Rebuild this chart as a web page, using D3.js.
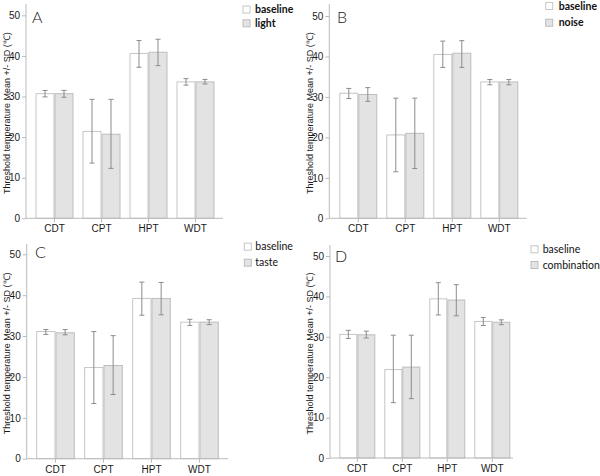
<!DOCTYPE html>
<html>
<head>
<meta charset="utf-8">
<script src="https://cdn.jsdelivr.net/npm/d3@7"></script>
<style>
  html, body { margin: 0; padding: 0; background: #fff; }
  svg { display: block; }
</style>
</head>
<body>
<svg id="chart" width="600" height="476"></svg>
<script>
// ---- data ----
const categories = ["CDT", "CPT", "HPT", "WDT"];
const yTicks = [0, 10, 20, 30, 40, 50];
const panelLetters = ["A", "B", "C", "D"];
const conditionNames = ["light", "noise", "taste", "combination"];
const baselineName = "baseline";

// panel A (baseline vs light): mean, lower, upper
const aBaseMean = [30.7, 21.4, 40.6, 33.6];
const aBaseLow  = [29.9, 13.6, 37.2, 32.8];
const aBaseHigh = [31.5, 29.3, 43.8, 34.4];
const aCondMean = [30.7, 20.7, 40.9, 33.6];
const aCondLow  = [29.8, 12.3, 37.6, 33.1];
const aCondHigh = [31.5, 29.3, 44.1, 34.2];

// panel B (baseline vs noise)
const bBaseMean = [30.9, 20.6, 40.5, 33.7];
const bBaseLow  = [29.6, 11.5, 37.3, 33.0];
const bBaseHigh = [32.1, 29.7, 43.8, 34.3];
const bCondMean = [30.6, 21.0, 40.8, 33.7];
const bCondLow  = [28.9, 12.3, 37.3, 33.0];
const bCondHigh = [32.3, 29.7, 43.9, 34.3];

// panel C (baseline vs taste)
const cBaseMean = [31.1, 22.3, 39.2, 33.4];
const cBaseLow  = [30.4, 13.5, 35.1, 32.6];
const cBaseHigh = [31.6, 31.1, 43.2, 34.1];
const cCondMean = [30.8, 22.8, 39.2, 33.4];
const cCondLow  = [30.3, 15.7, 35.2, 32.8];
const cCondHigh = [31.6, 30.1, 43.1, 34.0];

// panel D (baseline vs combination)
const dBaseMean = [30.6, 21.9, 39.4, 33.8];
const dBaseLow  = [29.6, 13.7, 35.4, 32.8];
const dBaseHigh = [31.6, 30.4, 43.4, 34.8];
const dCondMean = [30.5, 22.5, 39.1, 33.6];
const dCondLow  = [29.7, 14.7, 35.2, 33.0];
const dCondHigh = [31.4, 30.4, 42.9, 34.2];

const panelData = [
  [[aBaseMean, aBaseLow, aBaseHigh], [aCondMean, aCondLow, aCondHigh]],
  [[bBaseMean, bBaseLow, bBaseHigh], [bCondMean, bCondLow, bCondHigh]],
  [[cBaseMean, cBaseLow, cBaseHigh], [cCondMean, cCondLow, cCondHigh]],
  [[dBaseMean, dBaseLow, dBaseHigh], [dCondMean, dCondLow, dCondHigh]]
];

// ---- layout (pixels) ----
const layouts = [
  {ax: 26,  y0: 218.3, y50: 15.3, top: 4,   c0: 54.5,  step: 47, bw: 19,   xEnd: 223, lgX: 243, lgTx: 255, lgY: [9.5, 23.3],  lbX: 32,  lbY: 17,  ylX: 7,   bold: true},
  {ax: 329.3, y0: 218.3, y50: 16, top: 4,   c0: 358.3, step: 47, bw: 19,   xEnd: 526.7, lgX: 545.7, lgTx: 558.7, lgY: [6, 22.7], lbX: 337, lbY: 17, ylX: 310, bold: true},
  {ax: 26.7, y0: 458.7, y50: 254.3, top: 244, c0: 55.5, step: 48, bw: 19.3, xEnd: 228, lgX: 244.3, lgTx: 255.3, lgY: [246.7, 262.7], lbX: 35, lbY: 252.7, ylX: 7, bold: false},
  {ax: 330, y0: 458, y50: 256, top: 245, c0: 357.3, step: 45, bw: 18, xEnd: 513, lgX: 531, lgTx: 542.7, lgY: [249.3, 265], lbX: 335, lbY: 256, ylX: 310, bold: false}
];

const axisColor = "#bbbbbb";
const textColor = "#1a1a1a";
const fills = ["#ffffff", "#e3e3e3"];
const strokes = ["#c6c6c6", "#bdbdbd"];
const errColor = "#8c8c8c";
const baseFont = "'Liberation Sans', Arial, sans-serif";

const svg = d3.select("#chart");

layouts.forEach((L, pi) => {
  const g = svg.append("g");
  const series = panelData[pi];

  const y = d3.scaleLinear().domain([0, 50]).range([L.y0, L.y50]);
  const x = d3.scaleBand()
    .domain(categories)
    .range([L.c0 - L.step / 2, L.c0 + L.step * (categories.length - 0.5)])
    .paddingInner(1 - 2 * L.bw / L.step)
    .paddingOuter((1 - 2 * L.bw / L.step) / 2);
  const xs = d3.scaleBand().domain([0, 1]).range([0, x.bandwidth()]).padding(0);

  // bars
  series.forEach((s, si) => {
    const [mean] = s;
    g.append("g").selectAll("rect").data(categories).join("rect")
      .attr("x", (c) => x(c) + xs(si) + 0.5)
      .attr("width", xs.bandwidth() - 1)
      .attr("y", (c, i) => y(mean[i]))
      .attr("height", (c, i) => y(0) - y(mean[i]))
      .attr("fill", fills[si])
      .attr("stroke", strokes[si])
      .attr("stroke-width", 1);
  });

  // error bars
  series.forEach((s, si) => {
    const [mean, low, high] = s;
    const ge = g.append("g").attr("stroke", errColor).attr("stroke-width", 1);
    categories.forEach((c, i) => {
      const cx = x(c) + xs(si) + xs.bandwidth() / 2;
      ge.append("line").attr("x1", cx).attr("x2", cx).attr("y1", y(low[i])).attr("y2", y(high[i]));
      ge.append("line").attr("x1", cx - 2.5).attr("x2", cx + 2.5).attr("y1", y(low[i])).attr("y2", y(low[i]));
      ge.append("line").attr("x1", cx - 2.5).attr("x2", cx + 2.5).attr("y1", y(high[i])).attr("y2", y(high[i]));
    });
  });

  // y axis
  const yAxis = d3.axisLeft(y).tickValues(yTicks).tickSize(4).tickPadding(2).tickFormat(d3.format("d"));
  const gy = g.append("g").attr("transform", `translate(${L.ax},0)`).call(yAxis);
  gy.select(".domain").remove();
  gy.selectAll(".tick line").attr("stroke", axisColor);
  gy.selectAll(".tick text").attr("fill", textColor).style("font-family", baseFont).style("font-size", "10px");
  g.append("line").attr("x1", L.ax).attr("x2", L.ax).attr("y1", L.top).attr("y2", L.y0)
    .attr("stroke", axisColor);

  // x axis
  const xAxis = d3.axisBottom(x).tickSize(4).tickPadding(3);
  const gx = g.append("g").attr("transform", `translate(0,${L.y0})`).call(xAxis);
  gx.select(".domain").remove();
  gx.selectAll(".tick line").attr("stroke", axisColor);
  gx.selectAll(".tick text").attr("fill", textColor).style("font-family", baseFont).style("font-size", "10px");
  g.append("line").attr("x1", L.ax).attr("x2", L.xEnd).attr("y1", L.y0).attr("y2", L.y0)
    .attr("stroke", axisColor);

  // y label
  g.append("text")
    .attr("transform", `translate(${L.ylX + 3},${(L.y0 + L.top) / 2 + 2}) rotate(-90)`)
    .attr("text-anchor", "middle")
    .attr("fill", textColor)
    .style("font-family", baseFont)
    .style("font-size", "9px")
    .text("Threshold temperature Mean +/- SD (\u2103)");

  // panel letter
  g.append("text")
    .attr("x", L.lbX).attr("y", L.lbY)
    .attr("dy", "0.35em")
    .attr("fill", textColor)
    .style("font-family", "Lato, 'Open Sans', sans-serif")
    .style("font-weight", 300)
    .style("font-size", "16px")
    .text(panelLetters[pi]);

  // legend
  const names = [baselineName, conditionNames[pi]];
  names.forEach((n, si) => {
    g.append("rect")
      .attr("x", L.lgX).attr("y", L.lgY[si] - 3.5)
      .attr("width", 7).attr("height", 7)
      .attr("fill", fills[si]).attr("stroke", strokes[si]);
    g.append("text")
      .attr("x", L.lgTx).attr("y", L.lgY[si])
      .attr("dy", "0.35em")
      .attr("fill", "#111")
      .style("font-family", "Lato, 'Open Sans', sans-serif")
      .style("font-weight", L.bold ? 700 : 400)
      .style("font-size", "10.5px")
      .text(n);
  });
});
</script>
</body>
</html>
